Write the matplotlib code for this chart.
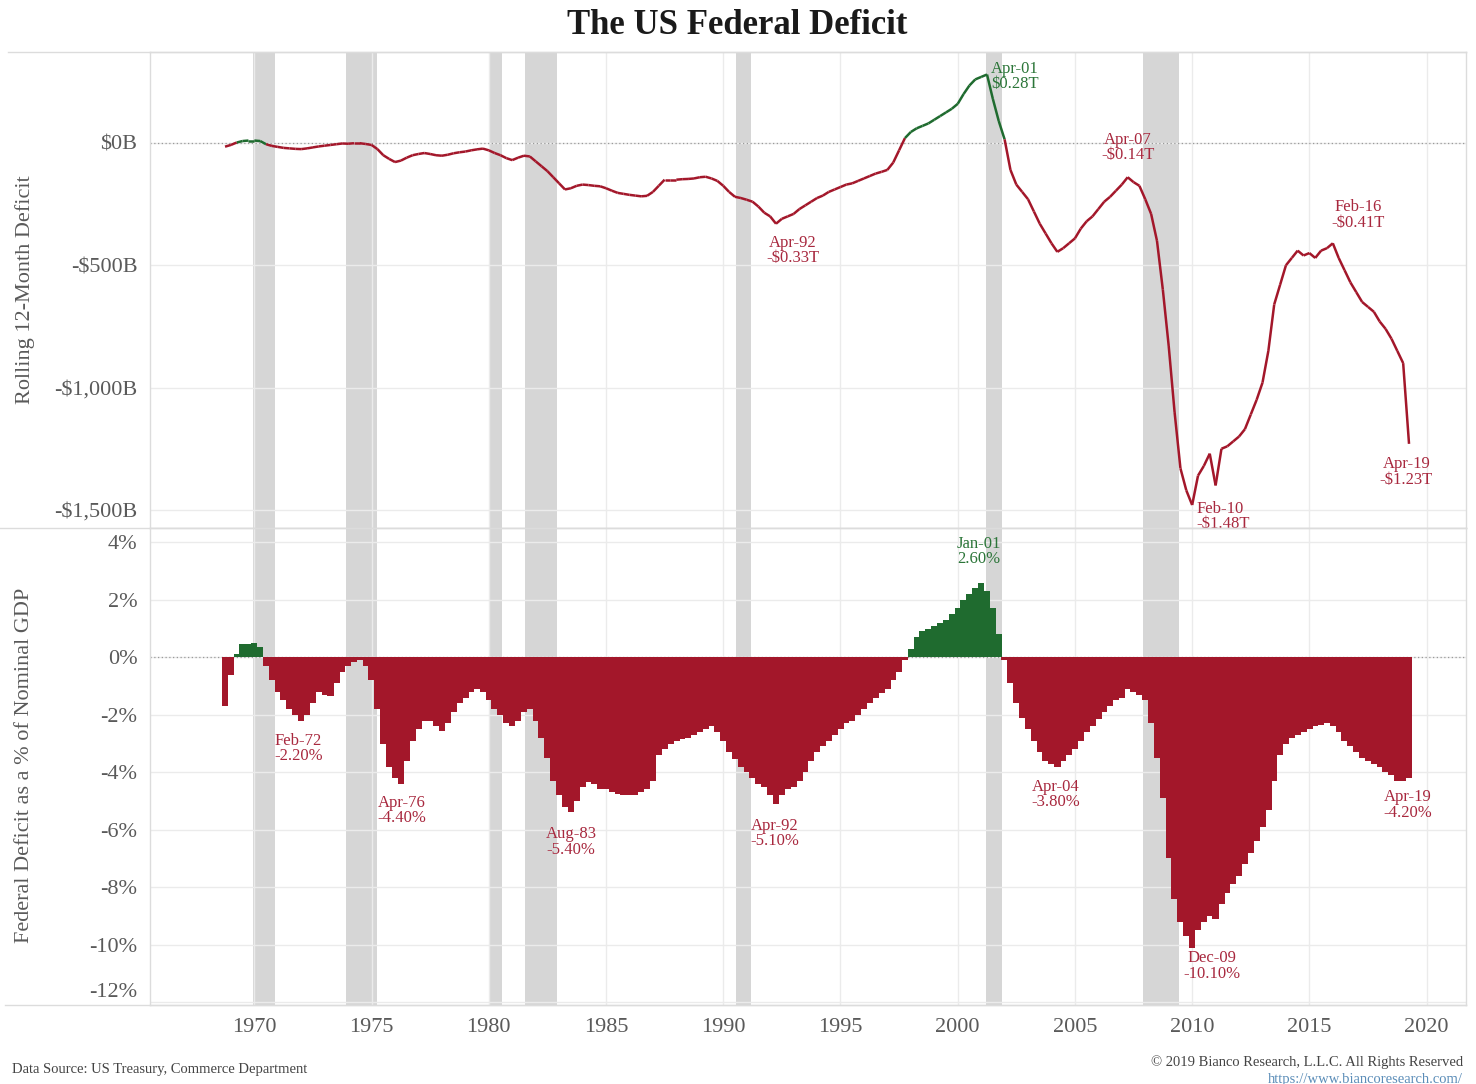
import numpy as np
import matplotlib.pyplot as plt
from matplotlib.collections import LineCollection
from matplotlib.lines import Line2D

plt.rcParams["font.family"] = ["Liberation Serif", "DejaVu Serif"]

# quarterly observations, first one is Q4 1968
start_year = 1968.75
step = 0.25

# rolling 12-month deficit, billions of dollars
deficit_bn = [
    -15,
    -8, 2, 8, 10,            # 1969
    10, 8, -5, -12,          # 1970
    -16, -20, -22, -24,      # 1971
    -25, -22, -18, -14,      # 1972
    -11, -8, -5, -2,         # 1973
    -3, -1, -1, -4,          # 1974
    -8, -25, -50, -65,       # 1975
    -78, -72, -60, -50,      # 1976
    -45, -41, -45, -50,      # 1977
    -52, -48, -42, -38,      # 1978
    -35, -30, -26, -23,      # 1979
    -30, -41, -50, -62,      # 1980
    -70, -60, -52, -55,      # 1981
    -75, -95, -115, -140,    # 1982
    -165, -190, -185, -175,  # 1983
    -170, -172, -175, -177,  # 1984
    -185, -195, -204, -208,  # 1985
    -212, -215, -218, -216,  # 1986
    -200, -175, -150, -150,  # 1987
    -150, -148, -147, -145,  # 1988
    -140, -138, -145, -155,  # 1989
    -175, -200, -220, -225,  # 1990
    -232, -240, -260, -285,  # 1991
    -300, -330, -310, -300,  # 1992
    -290, -270, -255, -240,  # 1993
    -225, -215, -200, -190,  # 1994
    -180, -170, -165, -155,  # 1995
    -145, -135, -125, -118,  # 1996
    -110, -80, -30, 20,      # 1997
    45, 60, 70, 80,          # 1998
    95, 110, 125, 140,       # 1999
    160, 200, 235, 260,      # 2000
    270, 280, 180, 90,       # 2001
    15, -110, -170, -200,    # 2002
    -230, -280, -330, -370,  # 2003
    -410, -445, -430, -410,  # 2004
    -390, -350, -320, -300,  # 2005
    -270, -240, -220, -195,  # 2006
    -170, -140, -160, -175,  # 2007
    -230, -290, -400, -600,  # 2008
    -830, -1100, -1330, -1420,   # 2009
    -1480, -1360, -1320, -1270,  # 2010
    -1400, -1250, -1240, -1220,  # 2011
    -1200, -1170, -1110, -1050,  # 2012
    -980, -850, -660, -580,  # 2013
    -500, -470, -440, -460,  # 2014
    -450, -470, -440, -430,  # 2015
    -410, -470, -520, -570,  # 2016
    -610, -650, -670, -690,  # 2017
    -730, -760, -800, -850,  # 2018
    -900, -1230,             # 2019
]

# deficit as a percent of nominal GDP
deficit_gdp = [
    -1.7,
    -0.6, 0.1, 0.45, 0.45,       # 1969
    0.5, 0.35, -0.3, -0.8,       # 1970
    -1.2, -1.5, -1.8, -2.0,      # 1971
    -2.2, -2.0, -1.6, -1.2,      # 1972
    -1.3, -1.35, -0.9, -0.5,     # 1973
    -0.3, -0.15, -0.1, -0.3,     # 1974
    -0.8, -1.8, -3.0, -3.8,      # 1975
    -4.2, -4.4, -3.6, -2.9,      # 1976
    -2.5, -2.2, -2.2, -2.4,      # 1977
    -2.55, -2.3, -1.9, -1.6,     # 1978
    -1.4, -1.2, -1.1, -1.2,      # 1979
    -1.5, -1.8, -2.0, -2.3,      # 1980
    -2.4, -2.2, -1.9, -1.8,      # 1981
    -2.2, -2.8, -3.5, -4.3,      # 1982
    -4.8, -5.2, -5.4, -5.0,      # 1983
    -4.5, -4.35, -4.4, -4.6,     # 1984
    -4.6, -4.7, -4.75, -4.8,     # 1985
    -4.8, -4.8, -4.7, -4.6,      # 1986
    -4.3, -3.4, -3.2, -3.0,      # 1987
    -2.9, -2.85, -2.8, -2.7,     # 1988
    -2.6, -2.5, -2.4, -2.6,      # 1989
    -2.9, -3.3, -3.55, -3.8,     # 1990
    -4.0, -4.2, -4.4, -4.5,      # 1991
    -4.8, -5.1, -4.8, -4.6,      # 1992
    -4.5, -4.3, -4.0, -3.6,      # 1993
    -3.3, -3.1, -2.9, -2.7,      # 1994
    -2.5, -2.3, -2.2, -2.0,      # 1995
    -1.8, -1.6, -1.4, -1.25,     # 1996
    -1.1, -0.8, -0.5, -0.1,      # 1997
    0.3, 0.7, 0.9, 1.0,          # 1998
    1.1, 1.2, 1.3, 1.5,          # 1999
    1.7, 2.0, 2.2, 2.4,          # 2000
    2.6, 2.3, 1.7, 0.8,          # 2001
    -0.1, -0.9, -1.6, -2.1,      # 2002
    -2.5, -2.9, -3.3, -3.6,      # 2003
    -3.7, -3.8, -3.6, -3.4,      # 2004
    -3.2, -2.9, -2.6, -2.4,      # 2005
    -2.15, -1.9, -1.7, -1.5,     # 2006
    -1.4, -1.1, -1.2, -1.3,      # 2007
    -1.5, -2.3, -3.5, -4.9,      # 2008
    -7.0, -8.4, -9.2, -9.7,      # 2009
    -10.1, -9.5, -9.2, -9.0,     # 2010
    -9.1, -8.6, -8.2, -7.9,      # 2011
    -7.6, -7.2, -6.8, -6.4,      # 2012
    -5.9, -5.3, -4.3, -3.4,      # 2013
    -3.0, -2.8, -2.7, -2.6,      # 2014
    -2.5, -2.4, -2.35, -2.3,     # 2015
    -2.4, -2.6, -2.9, -3.1,      # 2016
    -3.3, -3.5, -3.6, -3.7,      # 2017
    -3.8, -4.0, -4.1, -4.3,      # 2018
    -4.3, -4.2,                  # 2019
]

# NBER recessions (start, end)
recessions = [(1969.95, 1970.88), (1973.9, 1975.22), (1980.02, 1980.57),
              (1981.55, 1982.9), (1990.55, 1991.2), (2001.2, 2001.87),
              (2007.92, 2009.45)]

# labelled highs / lows: (date, tag, offset in points, alignment)
top_notes = [
    (1992.25, "Apr-92", (12, -8), "center", "top"),
    (2001.25, "Apr-01", (3, 10), "left", "top"),
    (2007.25, "Apr-07", (0, 10), "center", "bottom"),
    (2010.0, "Feb-10", (3, 3), "left", "top"),
    (2016.0, "Feb-16", (18, 9), "center", "bottom"),
    (2019.25, "Apr-19", (-2, -9), "center", "top"),
]
bottom_notes = [
    (1972.0, "Feb-72", (-2, -9), "center", "top"),
    (1976.25, "Apr-76", (1, -8), "center", "top"),
    (1983.5, "Aug-83", (0, -10), "center", "top"),
    (1992.25, "Apr-92", (-1, -10), "center", "top"),
    (2001.0, "Jan-01", (-2, 11), "center", "bottom"),
    (2004.25, "Apr-04", (-1, -9), "center", "top"),
    (2010.0, "Dec-09", (14, -2), "center", "top"),
    (2019.25, "Apr-19", (-1, -8), "center", "top"),
]

red = "#a3172a"
green = "#1f6b2f"
red_txt = "#a8283e"
green_txt = "#2b7538"
grey_txt = "#5a5a5a"
grid_c = "#ebebeb"

dates = start_year + step * np.arange(len(deficit_bn))
deficit_bn = np.array(deficit_bn, dtype=float)
deficit_gdp = np.array(deficit_gdp, dtype=float)

W, H = 1476, 1084
fig = plt.figure(figsize=(W / 100, H / 100), dpi=100)
left, right = 150, 1466
ax1 = fig.add_axes([left / W, (H - 528) / H, (right - left) / W, (528 - 52) / H])
ax2 = fig.add_axes([left / W, (H - 1005) / H, (right - left) / W, (1005 - 528) / H],
                   sharex=ax1)

for ax in (ax1, ax2):
    for a, b in recessions:
        ax.axvspan(a, b, color="#d6d6d6", lw=0, zorder=0)
    ax.axhline(0, color="#9a9a9a", lw=0.9, ls=(0, (1, 2)), zorder=1)
    ax.set_xlim(1965.55, 2021.68)
    ax.set_xticks(np.arange(1970, 2021, 5))
    ax.grid(True, color=grid_c, lw=1.0, zorder=0.5)
    ax.set_axisbelow(True)
    for s in ax.spines.values():
        s.set_color("#dcdcdc")
        s.set_linewidth(1.0)
    ax.tick_params(length=0, colors=grey_txt, labelsize=16, pad=9)

# top panel: line coloured by sign
pts = np.column_stack([dates, deficit_bn])
segs = np.stack([pts[:-1], pts[1:]], axis=1)
seg_cols = [green if (a + b) / 2 > 0 else red
            for a, b in zip(deficit_bn[:-1], deficit_bn[1:])]
ax1.add_collection(LineCollection(segs, colors=seg_cols, linewidths=1.8, zorder=3))
ax1.set_ylim(-1574, 372)
ax1.set_yticks([0, -500, -1000, -1500])
ax1.set_yticklabels(["\\$0B", "-\\$500B", "-\\$1,000B", "-\\$1,500B"])
ax1.tick_params(axis="x", labelbottom=False)

# bottom panel: bars, green for surplus
bar_cols = [green if v > 0 else red for v in deficit_gdp]
ax2.bar(dates, deficit_gdp, width=0.27, color=bar_cols, lw=0, zorder=2)
ax2.set_ylim(-12.1, 4.5)
ax2.set_yticks(np.arange(4, -13, -2))
ax2.set_yticklabels([f"{v}%" for v in range(4, -13, -2)])
ax2.get_yticklabels()[-1].set_va("bottom")


def near(d):
    return int(np.argmin(np.abs(dates - d)))


for d, tag, off, ha, va in top_notes:
    v = deficit_bn[near(d)]
    c = green_txt if v > 0 else red_txt
    sign = "" if v > 0 else "-"
    ax1.annotate(f"{tag}\n{sign}\\${abs(v) / 1000:.2f}T", (d, v), xytext=off,
                 textcoords="offset points", ha=ha, va=va, fontsize=12,
                 color=c, linespacing=0.95, zorder=5)

for d, tag, off, ha, va in bottom_notes:
    v = deficit_gdp[near(d)]
    c = green_txt if v > 0 else red_txt
    ax2.annotate(f"{tag}\n{v:.2f}%", (d, v), xytext=off,
                 textcoords="offset points", ha=ha, va=va, fontsize=12,
                 color=c, linespacing=0.95, zorder=5)

# axis titles
fig.text(25 / W, 1 - 290 / H, "Rolling 12-Month Deficit", rotation=90,
         ha="center", va="center", fontsize=16, color=grey_txt)
fig.text(25 / W, 1 - 765 / H, "Federal Deficit as a % of Nominal GDP", rotation=90,
         ha="center", va="center", fontsize=16, color=grey_txt)

# frame rules running to the left edge
for y, x0 in ((52, 8), (528, 0), (1005, 5)):
    fig.add_artist(Line2D([x0 / W, right / W], [1 - y / H, 1 - y / H],
                          color="#dcdcdc", lw=1.0))

fig.text(737 / W, 1 - 26 / H, "The US Federal Deficit", ha="center", va="center",
         fontsize=25, fontweight="bold", color="#1a1a1a")
fig.text(12 / W, 1 - 1070 / H, "Data Source: US Treasury, Commerce Department",
         ha="left", va="center", fontsize=10.5, color="#444444")
fig.text(1463 / W, 1 - 1062 / H, "© 2019 Bianco Research, L.L.C. All Rights Reserved",
         ha="right", va="center", fontsize=10.5, color="#444444")
fig.text(1463 / W, 1 - 1080 / H, "https://www.biancoresearch.com/",
         ha="right", va="center", fontsize=10.5, color="#5b8db8")

fig.savefig("out.png", dpi=100)
